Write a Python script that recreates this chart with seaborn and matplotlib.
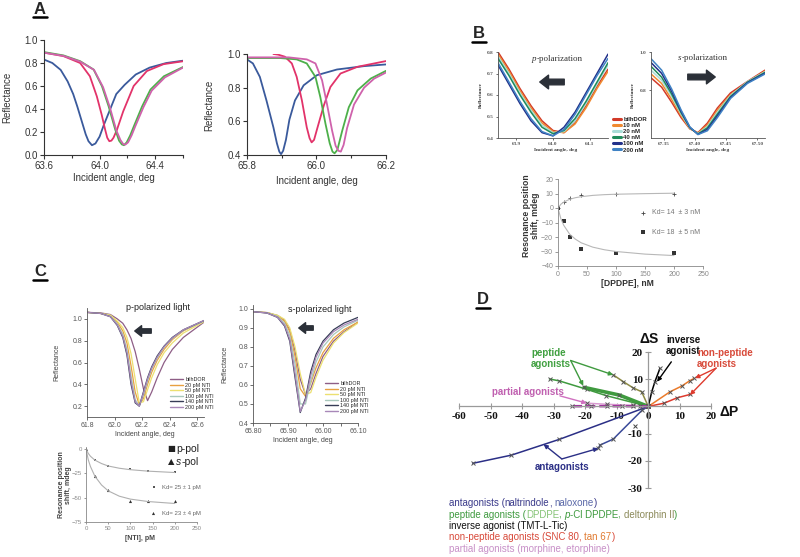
import matplotlib
matplotlib.use("Agg")
import matplotlib.pyplot as plt
from matplotlib.lines import Line2D
from matplotlib.patches import FancyArrowPatch
import seaborn as sns

# %%
# Panel A, p-polarisation (left) curves
a1_blue_x = [63.60, 63.66, 63.72, 63.77, 63.81, 63.84, 63.87, 63.90, 63.92, 63.945, 63.97, 64.00, 64.03, 64.07, 64.12, 64.18, 64.26, 64.36, 64.48, 64.60]
a1_blue_y = [0.83, 0.80, 0.74, 0.64, 0.53, 0.42, 0.30, 0.18, 0.12, 0.085, 0.10, 0.16, 0.26, 0.38, 0.53, 0.61, 0.70, 0.76, 0.80, 0.82]
a1_red_x = [63.60, 63.74, 63.86, 63.93, 63.98, 64.015, 64.04, 64.055, 64.07, 64.085, 64.10, 64.125, 64.17, 64.245, 64.34, 64.46, 64.60]
a1_red_y = [0.89, 0.86, 0.80, 0.685, 0.51, 0.35, 0.22, 0.15, 0.12, 0.125, 0.15, 0.22, 0.38, 0.60, 0.73, 0.79, 0.815]
a1_green_x = [63.60, 63.74, 63.86, 63.957, 64.017, 64.065, 64.113, 64.14, 64.16, 64.175, 64.195, 64.22, 64.246, 64.306, 64.366, 64.463, 64.60]
a1_green_y = [0.895, 0.866, 0.816, 0.743, 0.598, 0.423, 0.219, 0.125, 0.092, 0.085, 0.11, 0.17, 0.248, 0.423, 0.569, 0.685, 0.765]
a1_pink_x = [63.60, 63.74, 63.86, 63.96, 64.025, 64.075, 64.12, 64.15, 64.17, 64.185, 64.205, 64.23, 64.255, 64.315, 64.375, 64.47, 64.60]
a1_pink_y = [0.89, 0.862, 0.812, 0.74, 0.59, 0.41, 0.215, 0.13, 0.095, 0.09, 0.11, 0.17, 0.245, 0.415, 0.56, 0.675, 0.76]

# Panel A, s-polarisation (right) curves
a2_blue_x = [65.80, 65.817, 65.837, 65.856, 65.876, 65.886, 65.893, 65.898, 65.904, 65.912, 65.922, 65.938, 65.963, 66.001, 66.059, 66.137, 66.20]
a2_blue_y = [0.968, 0.944, 0.864, 0.724, 0.564, 0.47, 0.42, 0.405, 0.425, 0.49, 0.61, 0.724, 0.814, 0.874, 0.908, 0.928, 0.938]
a2_red_x = [65.876, 65.89, 65.909, 65.929, 65.943, 65.958, 65.972, 65.98, 65.986, 65.993, 66.003, 66.021, 66.04, 66.069, 66.118, 66.20]
a2_red_y = [1.0, 0.996, 0.984, 0.944, 0.864, 0.724, 0.564, 0.50, 0.475, 0.49, 0.564, 0.694, 0.804, 0.884, 0.924, 0.958]
a2_green_x = [65.80, 65.895, 65.943, 65.972, 65.997, 66.011, 66.026, 66.038, 66.046, 66.052, 66.06, 66.074, 66.093, 66.118, 66.156, 66.20]
a2_green_y = [0.976, 0.976, 0.968, 0.944, 0.864, 0.744, 0.584, 0.47, 0.42, 0.41, 0.43, 0.544, 0.684, 0.784, 0.854, 0.90]
a2_pink_x = [65.80, 65.92, 65.972, 65.997, 66.016, 66.03, 66.045, 66.055, 66.063, 66.07, 66.078, 66.088, 66.108, 66.137, 66.166, 66.20]
a2_pink_y = [0.98, 0.98, 0.968, 0.944, 0.844, 0.704, 0.544, 0.455, 0.425, 0.42, 0.46, 0.56, 0.70, 0.80, 0.854, 0.89]

# Panel B, DPDPE titration
b_labels = ["bilhDOR", "10 nM", "20 nM", "40 nM", "100 nM", "200 nM"]
b_colors = ["#d23a28", "#f08a30", "#a8dcd6", "#1e8a5a", "#22308a", "#3f82c4"]
bp_x = [63.85, 63.88, 63.91, 63.94, 63.97, 64.00, 64.03, 64.06, 64.09, 64.12, 64.15]
bp_y = [
    [0.80, 0.72, 0.63, 0.55, 0.48, 0.435, 0.425, 0.47, 0.55, 0.64, 0.72],
    [0.79, 0.71, 0.62, 0.54, 0.47, 0.43, 0.425, 0.465, 0.54, 0.63, 0.71],
    [0.78, 0.70, 0.61, 0.53, 0.46, 0.425, 0.43, 0.48, 0.56, 0.65, 0.74],
    [0.77, 0.69, 0.60, 0.52, 0.45, 0.42, 0.435, 0.49, 0.57, 0.66, 0.75],
    [0.74, 0.65, 0.56, 0.48, 0.425, 0.41, 0.45, 0.52, 0.61, 0.70, 0.79],
    [0.75, 0.66, 0.57, 0.49, 0.43, 0.41, 0.44, 0.51, 0.60, 0.69, 0.77],
]
bs_x = [67.33, 67.347, 67.363, 67.378, 67.392, 67.405, 67.42, 67.436, 67.457, 67.484, 67.512]
bs_y = [
    [0.865, 0.816, 0.737, 0.657, 0.598, 0.578, 0.628, 0.707, 0.786, 0.846, 0.905],
    [0.885, 0.835, 0.752, 0.667, 0.600, 0.575, 0.618, 0.695, 0.776, 0.840, 0.900],
    [0.905, 0.852, 0.768, 0.675, 0.602, 0.573, 0.610, 0.685, 0.772, 0.845, 0.897],
    [0.925, 0.868, 0.780, 0.683, 0.604, 0.571, 0.603, 0.675, 0.767, 0.842, 0.893],
    [0.945, 0.888, 0.794, 0.690, 0.606, 0.569, 0.595, 0.666, 0.762, 0.839, 0.889],
    [0.965, 0.905, 0.806, 0.697, 0.608, 0.568, 0.588, 0.657, 0.757, 0.836, 0.885],
]
b_conc = [0, 10, 20, 40, 100, 200]
b_shift_p = [0, 4, 7, 9, 10, 10]
b_shift_s = [0, -9, -20, -28, -31, -31]
b_fit_x = [0, 5, 10, 20, 30, 40, 60, 80, 100, 150, 200]
b_fit_p = [0, 2.6, 4.1, 6.0, 7.1, 7.8, 8.7, 9.2, 9.5, 9.9, 10.2]
b_fit_s = [0, -7.5, -12, -18, -21.5, -24, -27, -28.8, -30, -31.8, -32.8]

# Panel C, NTI titration
c_labels = ["bilhDOR", "20 pM NTI", "50 pM NTI", "100 pM NTI", "140 pM NTI", "200 pM NTI"]
c_colors = ["#8e5e86", "#e8a040", "#ece070", "#a8c8bc", "#363c56", "#a888b8"]
cp_x = [61.80, 61.90, 61.97, 62.02, 62.06, 62.09, 62.12, 62.15, 62.18, 62.21, 62.24, 62.27, 62.31, 62.36, 62.42, 62.50, 62.65]
cp_y = [
    [1.06, 1.055, 1.04, 1.0, 0.96, 0.90, 0.82, 0.70, 0.54, 0.36, 0.25, 0.33, 0.46, 0.60, 0.72, 0.83, 0.97],
    [1.06, 1.05, 1.03, 0.97, 0.89, 0.78, 0.57, 0.33, 0.21, 0.27, 0.40, 0.51, 0.62, 0.72, 0.81, 0.89, 0.98],
    [1.06, 1.05, 1.035, 0.98, 0.92, 0.83, 0.68, 0.45, 0.23, 0.24, 0.35, 0.46, 0.58, 0.69, 0.78, 0.87, 0.975],
    [1.06, 1.05, 1.025, 0.955, 0.86, 0.72, 0.48, 0.26, 0.20, 0.30, 0.43, 0.54, 0.64, 0.74, 0.82, 0.895, 0.98],
    [1.06, 1.05, 1.02, 0.94, 0.83, 0.67, 0.40, 0.23, 0.20, 0.33, 0.46, 0.56, 0.66, 0.75, 0.83, 0.90, 0.985],
    [1.06, 1.05, 1.02, 0.945, 0.84, 0.69, 0.43, 0.24, 0.20, 0.32, 0.45, 0.55, 0.65, 0.745, 0.825, 0.90, 0.985],
]
cs_x = [65.80, 65.84, 65.87, 65.89, 65.905, 65.92, 65.935, 65.95, 65.965, 65.98, 66.00, 66.03, 66.06, 66.10]
cs_y = [
    [0.985, 0.98, 0.965, 0.94, 0.89, 0.78, 0.63, 0.55, 0.58, 0.66, 0.75, 0.83, 0.88, 0.93],
    [0.985, 0.98, 0.963, 0.935, 0.88, 0.75, 0.58, 0.54, 0.61, 0.69, 0.77, 0.845, 0.89, 0.93],
    [0.985, 0.98, 0.966, 0.945, 0.90, 0.80, 0.66, 0.55, 0.56, 0.64, 0.73, 0.82, 0.875, 0.925],
    [0.985, 0.979, 0.96, 0.925, 0.86, 0.71, 0.50, 0.50, 0.62, 0.72, 0.80, 0.865, 0.905, 0.94],
    [0.985, 0.978, 0.955, 0.91, 0.83, 0.64, 0.455, 0.53, 0.67, 0.76, 0.83, 0.89, 0.925, 0.955],
    [0.985, 0.978, 0.956, 0.915, 0.84, 0.66, 0.46, 0.52, 0.65, 0.745, 0.82, 0.88, 0.915, 0.945],
]
c_conc = [0, 20, 50, 100, 140, 200]
c_shift_p = [0, -11.5, -17.6, -21, -22.7, -23.7]
c_shift_s = [0, -27.8, -42.4, -53.9, -53.3, -53.3]
c_fit_x = [0, 5, 10, 20, 35, 50, 75, 100, 140, 200]
c_fit_p = [0, -4.5, -7.5, -11.5, -15, -17.5, -19.8, -21.3, -22.8, -24.2]
c_fit_s = [0, -11, -18, -28, -37, -43, -48.5, -51.5, -54, -56]

# Panel D, resonance shifts (dP, dS) for each ligand
d_naltrindole_p = [0, -28.2, -43.4, -55.6]
d_naltrindole_s = [0, -12.1, -17.9, -20.9]
d_naloxone_p = [0, -1.9, -11.1, -15.3, -15.8]
d_naloxone_s = [0, -1.3, -12.0, -14.2, -15.4]
d_dpdpe_p = [0, -13.4, -19.5, -28.2, -31.3]
d_dpdpe_s = [0, 4.0, 6.3, 9.4, 10.1]
d_pcl_p = [0, -9.2, -20.3]
d_pcl_s = [0, 4.2, 7.0]
d_delt_p = [0, -2.1, -4.9, -7.9, -11.1]
d_delt_s = [0, 5.4, 6.9, 9.1, 11.6]
d_tmt_p = [0, 1.1, 2.1, 3.7]
d_tmt_s = [0, 5.4, 9.1, 14.0]
d_snc_p = [0, 5.0, 9.2, 13.2]
d_snc_s = [0, 1.2, 3.2, 4.4]
d_tan_p = [0, 6.9, 10.6, 13.2, 14.5]
d_tan_s = [0, 5.4, 7.5, 9.5, 10.3]
d_morph_p = [0, -4.8, -13.2, -19.5]
d_morph_s = [0, 0.4, 0.8, 1.2]
d_etor_p = [0, -2.6, -4.8, -8.4, -13.2, -18.3, -24.2]
d_etor_s = [0, 0.1, 0.1, 0.1, 0.1, 0.1, 0.1]
d_extra_p = [-4.2]
d_extra_s = [-7.1]

# %%
sns.set_theme(style="ticks")
plt.rcParams["font.family"] = ["Liberation Sans", "DejaVu Sans"]
plt.rcParams["axes.linewidth"] = 0.8

W, H = 800, 557
fig = plt.figure(figsize=(8, 5.57), dpi=100)
bg = fig.add_axes([0, 0, 1, 1])
bg.set_xlim(0, W)
bg.set_ylim(H, 0)
bg.axis("off")


def box(l, t, r, b):
    return fig.add_axes([l / W, 1 - b / H, (r - l) / W, (b - t) / H])


def ftext(x, y, s, **kw):
    kw.setdefault("ha", "center")
    kw.setdefault("va", "center")
    return bg.text(x, y, s, **kw)


def rich(x, y, parts, **kw):
    # consecutive text pieces with their own colour / style
    t = bg.text(x, y, parts[0][0], color=parts[0][1], style=parts[0][2], ha="left", va="center", **kw)
    for s, c, st in parts[1:]:
        t = bg.annotate(s, xy=(1, 0), xycoords=t, color=c, style=st, ha="left", va="bottom",
                        annotation_clip=False, **kw)


def letter(x, y, s):
    ftext(x, y, s, fontsize=12, fontweight="bold")
    bg.plot([x - 7, x + 7], [y + 8, y + 8], color="black", lw=1.8)


def fat_arrow(x0, y0, x1, y1, scale=9):
    bg.add_patch(FancyArrowPatch((x0, y0), (x1, y1),
                                 arrowstyle="simple,head_length=0.7,head_width=1.1,tail_width=0.45",
                                 mutation_scale=scale, color="#2b3038"))


def line(ax, x, y, c, lw=1.3, **kw):
    sns.lineplot(x=x, y=y, ax=ax, color=c, lw=lw, sort=False, estimator=None, legend=False, **kw)


def frame(ax, fs, color="#333333", lw=0.8):
    sns.despine(ax=ax)
    for s in ("left", "bottom"):
        ax.spines[s].set_color(color)
        ax.spines[s].set_linewidth(lw)
    ax.tick_params(labelsize=fs, colors=color, length=3, width=lw, pad=1.5)
    ax.tick_params(which="minor", length=2, width=lw, colors=color)
    ax.set_facecolor("none")
    ax.set_xlabel("")
    ax.set_ylabel("")


# %%
# ---- A ----
letter(40, 9, "A")
ax = box(44, 40, 183, 155)
line(ax, a1_blue_x, a1_blue_y, "#3a5a9c")
line(ax, a1_red_x, a1_red_y, "#e2336a")
line(ax, a1_green_x, a1_green_y, "#4db04a")
line(ax, a1_pink_x, a1_pink_y, "#cf62ac")
ax.set_xlim(63.6, 64.6)
ax.set_ylim(0, 1.0)
ax.set_xticks([63.6, 64.0, 64.4], ["63.6", "64.0", "64.4"])
ax.set_xticks([63.8, 64.2, 64.6], minor=True)
ax.set_yticks([0, 0.2, 0.4, 0.6, 0.8, 1.0], ["0.0", "0.2", "0.4", "0.6", "0.8", "1.0"])
frame(ax, 7)
ftext(7, 97, "Reflectance", rotation=90, fontsize=7, color="#333")
ftext(114, 178, "Incident angle, deg", fontsize=7, color="#333")

ax = box(247, 54, 386, 155)
line(ax, a2_blue_x, a2_blue_y, "#3a5a9c")
line(ax, a2_red_x, a2_red_y, "#e2336a")
line(ax, a2_green_x, a2_green_y, "#4db04a")
line(ax, a2_pink_x, a2_pink_y, "#cf62ac")
ax.set_xlim(65.8, 66.2)
ax.set_ylim(0.4, 1.0)
ax.set_xticks([65.8, 66.0, 66.2], ["65.8", "66.0", "66.2"])
ax.set_xticks([65.9, 66.1], minor=True)
ax.set_yticks([0.4, 0.6, 0.8, 1.0], ["0.4", "0.6", "0.8", "1.0"])
frame(ax, 7)
ftext(209, 105, "Reflectance", rotation=90, fontsize=7, color="#333")
ftext(317, 181, "Incident angle, deg", fontsize=7, color="#333")

# %%
# ---- B ----
letter(479, 34, "B")
tiny = dict(fontsize=3.8, fontfamily="Liberation Serif", fontweight="bold")

ax = box(498, 52, 608, 138)
for ys, c in zip(bp_y, b_colors):
    line(ax, bp_x, ys, c, lw=1.1)
ax.set_xlim(63.85, 64.15)
ax.set_ylim(0.4, 0.8)
ax.set_xticks([63.9, 64.0, 64.1], ["63.9", "64.0", "64.1"], **tiny)
ax.set_yticks([0.4, 0.5, 0.6, 0.7, 0.8], ["0.4", "0.5", "0.6", "0.7", "0.8"], **tiny)
frame(ax, 3.8, color="#555", lw=0.6)
ax.tick_params(length=1.5)
ftext(481, 95, "Reflectance", rotation=90, color="#333", **tiny)
ftext(556, 150, "Incident angle, deg", color="#333", **tiny)
rich(532, 59, [("p", "#333", "italic"), ("-polarization", "#333", "normal")],
     fontsize=6.5, fontfamily="Liberation Serif")
fat_arrow(567, 82, 537, 82)
handles = [Line2D([], [], color=c, lw=2.2) for c in b_colors]
ax.legend(handles, b_labels, loc="upper left", bbox_to_anchor=(613 / W, 1 - 117 / H),
          bbox_transform=fig.transFigure, frameon=False, handlelength=1.3, handletextpad=0.4,
          labelspacing=0.15, borderpad=0, borderaxespad=0,
          prop={"weight": "bold", "family": "Liberation Sans", "size": 4.3})

ax = box(651, 52, 765, 138)
for ys, c in zip(bs_y, b_colors):
    line(ax, bs_x, ys, c, lw=1.1)
ax.set_xlim(67.33, 67.512)
ax.set_ylim(0.55, 1.0)
ax.set_xticks([67.35, 67.40, 67.45, 67.50], ["67.35", "67.40", "67.45", "67.50"], **tiny)
ax.set_yticks([0.8, 1.0], ["0.8", "1.0"], **tiny)
frame(ax, 3.8, color="#555", lw=0.6)
ax.tick_params(length=1.5)
ftext(633, 95, "Reflectance", rotation=90, color="#333", **tiny)
ftext(708, 150, "Incident angle, deg", color="#333", **tiny)
rich(678, 58, [("s", "#333", "italic"), ("-polarization", "#333", "normal")],
     fontsize=6.5, fontfamily="Liberation Serif")
fat_arrow(685, 77, 718, 77)

ax = box(558, 179, 703, 266)
line(ax, b_fit_x, b_fit_p, "#b8b8b8", lw=0.8)
line(ax, b_fit_x, b_fit_s, "#b8b8b8", lw=0.8)
sns.scatterplot(x=b_conc, y=b_shift_p, ax=ax, marker="+", s=6, color="#444", linewidth=0.6, legend=False)
sns.scatterplot(x=b_conc, y=b_shift_s, ax=ax, marker="s", s=7, color="#333", linewidth=0, legend=False)
ax.set_xlim(0, 250)
ax.set_ylim(-40, 20)
ax.set_xticks([0, 50, 100, 150, 200, 250])
ax.set_yticks([-40, -30, -20, -10, 0, 10, 20])
frame(ax, 5, color="#888", lw=0.6)
ax.tick_params(length=2)
sns.scatterplot(x=[643], y=[213], ax=bg, marker="+", s=6, color="#444", linewidth=0.6, legend=False)
sns.scatterplot(x=[643], y=[232], ax=bg, marker="s", s=7, color="#333", linewidth=0, legend=False)
ftext(652, 213, "Kd= 14  \u00b1 3 nM", ha="left", fontsize=5, color="#777")
ftext(652, 232, "Kd= 18  \u00b1 5 nM", ha="left", fontsize=5, color="#777")
ftext(531, 216, "Resonance position\nshift, mdeg", rotation=90, fontsize=6.2, fontweight="bold",
      color="#333", linespacing=1.1)
ftext(627, 283, "[DPDPE], nM", fontsize=6.2, fontweight="bold", color="#333")

# %%
# ---- C ----
letter(40, 272, "C")
ax = box(87, 308, 204, 417)
for ys, c in zip(cp_y, c_colors):
    line(ax, cp_x, ys, c, lw=0.9)
ax.set_xlim(61.8, 62.65)
ax.set_ylim(0.1, 1.1)
ax.set_xticks([61.8, 62.0, 62.2, 62.4, 62.6], ["61.8", "62.0", "62.2", "62.4", "62.6"])
ax.set_yticks([0.2, 0.4, 0.6, 0.8, 1.0], ["0.2", "0.4", "0.6", "0.8", "1.0"])
frame(ax, 5, color="#555", lw=0.6)
ax.tick_params(length=2)
ftext(57, 362, "Reflectance", rotation=90, fontsize=5, color="#444")
ftext(145, 435, "Incident angle, deg", fontsize=5, color="#444")
ftext(158, 308, "p-polarized light", fontsize=6.5, color="#222")
fat_arrow(154, 331, 132, 331, scale=7)
handles = [Line2D([], [], color=c, lw=1.0) for c in c_colors]
ax.legend(handles, c_labels, loc="upper left", bbox_to_anchor=(170 / W, 1 - 377 / H),
          bbox_transform=fig.transFigure, frameon=False, handlelength=2.4, handletextpad=0.4,
          labelspacing=0.1, borderpad=0, borderaxespad=0, prop={"size": 3.9})

ax = box(253, 305, 358, 423)
for ys, c in zip(cs_y, c_colors):
    line(ax, cs_x, ys, c, lw=0.9)
ax.set_xlim(65.80, 66.10)
ax.set_ylim(0.4, 1.02)
ax.set_xticks([65.80, 65.90, 66.00, 66.10], ["65.80", "65.90", "66.00", "66.10"])
ax.set_xticks([65.85, 65.95, 66.05], minor=True)
ax.set_yticks([0.4, 0.5, 0.6, 0.7, 0.8, 0.9, 1.0])
frame(ax, 5, color="#555", lw=0.6)
ax.tick_params(length=2)
ftext(225, 364, "Reflectance", rotation=90, fontsize=5, color="#444")
ftext(303, 441, "Incident angle, deg", fontsize=5, color="#444")
ftext(320, 309, "s-polarized light", fontsize=6.5, color="#222")
fat_arrow(316, 328, 296, 328, scale=7)
ax.legend(handles, c_labels, loc="upper left", bbox_to_anchor=(325 / W, 1 - 381 / H),
          bbox_transform=fig.transFigure, frameon=False, handlelength=2.4, handletextpad=0.4,
          labelspacing=0.1, borderpad=0, borderaxespad=0, prop={"size": 3.9})

ax = box(86, 447, 197, 522)
line(ax, c_fit_x, c_fit_p, "#b0b0b0", lw=0.8)
line(ax, c_fit_x, c_fit_s, "#b0b0b0", lw=0.8)
sns.scatterplot(x=c_conc, y=c_shift_p, ax=ax, marker="s", s=4, color="#555", linewidth=0, legend=False)
sns.scatterplot(x=c_conc, y=c_shift_s, ax=ax, marker="^", s=5, color="#333", linewidth=0, legend=False)
ax.set_xlim(0, 250)
ax.set_ylim(-75, 2)
ax.set_xticks([0, 50, 100, 150, 200, 250])
ax.set_yticks([-75, -50, -25, 0])
frame(ax, 4.3, color="#888", lw=0.6)
ax.tick_params(length=1.5)
sns.scatterplot(x=[154], y=[487], ax=bg, marker="s", s=4, color="#555", linewidth=0, legend=False)
sns.scatterplot(x=[153], y=[513], ax=bg, marker="^", s=5, color="#333", linewidth=0, legend=False)
ftext(162, 487, "Kd= 25 \u00b1 1 pM", ha="left", fontsize=4.3, color="#666")
ftext(162, 513, "Kd= 23 \u00b1 4 pM", ha="left", fontsize=4.3, color="#666")
ftext(171, 449, "\u25a0", fontsize=6, color="#222", fontfamily="DejaVu Sans")
ftext(171, 462, "\u25b2", fontsize=6, color="#222", fontfamily="DejaVu Sans")
rich(176, 449, [("p-pol", "#222", "normal")], fontsize=7.5)
rich(176, 462, [("s", "#222", "italic"), ("-pol", "#222", "normal")], fontsize=7.5)
ftext(65, 485, "Resonance position\nshift, mdeg", rotation=90, fontsize=5, fontweight="bold",
      color="#444", linespacing=1.1)
ftext(140, 538, "[NTI], pM", fontsize=5, fontweight="bold", color="#444")

# %%
# ---- D ----
letter(483, 300, "D")
ax = box(449.5, 343.9, 724, 493.5)
navy, green, olive, red, orange = "#2b2f86", "#3f9a3f", "#8c8a44", "#de3b2e", "#ea7a2a"
mk = dict(marker="x", markersize=3.2, markeredgewidth=0.7, markeredgecolor="#555")
line(ax, d_naltrindole_p, d_naltrindole_s, navy, lw=1.1, **mk)
line(ax, d_naloxone_p, d_naloxone_s, "#3a4a9a", lw=1.1, **mk)
line(ax, d_dpdpe_p, d_dpdpe_s, green, lw=1.1, **mk)
line(ax, d_pcl_p, d_pcl_s, green, lw=2.6, **mk)
line(ax, d_delt_p, d_delt_s, olive, lw=1.1, **mk)
line(ax, d_tmt_p, d_tmt_s, "black", lw=1.1, **mk)
line(ax, d_tan_p, d_tan_s, orange, lw=1.1, **mk)
line(ax, d_snc_p, d_snc_s, red, lw=1.1, **mk)
line(ax, d_morph_p, d_morph_s, "#d99ad0", lw=1.1, **mk)
line(ax, d_etor_p, d_etor_s, "#a02a9e", lw=1.8, linestyle="--", **mk)
sns.scatterplot(x=d_extra_p, y=d_extra_s, ax=ax, marker="x", s=8, color="#444", linewidth=0.7, legend=False)

ax.set_xlim(-63, 24)
ax.set_ylim(-32, 23)
for s in ("top", "right"):
    ax.spines[s].set_visible(False)
for s in ("left", "bottom"):
    ax.spines[s].set_position(("data", 0))
    ax.spines[s].set_color("#9a9a9a")
    ax.spines[s].set_linewidth(0.9)
ax.spines["left"].set_bounds(-30, 20)
ax.spines["bottom"].set_bounds(-60, 20)
ax.set_facecolor("none")
dfont = dict(fontfamily="Liberation Serif", fontweight="bold", fontsize=8)
ax.set_xticks([-60, -50, -40, -30, -20, -10, 0, 10, 20],
              ["-60", "-50", "-40", "-30", "-20", "-10", "0", "10", "20"], **dfont)
ax.set_yticks([-30, -20, -10, 10, 20], ["-30", "-20", "-10", "10", "20"], **dfont)
ax.tick_params(direction="inout", length=4, width=0.8, colors="#9a9a9a", labelcolor="#111", pad=2)
ax.set_xlabel("")
ax.set_ylabel("")

arr = dict(arrowstyle="-|>", lw=1.0, mutation_scale=6, shrinkA=0, shrinkB=0)
for tip in [(2.8, 9.1)]:
    ax.annotate("", xy=tip, xytext=(7.3, 16.4), arrowprops=dict(color="black", **arr))
for tip in [(14.8, 10.4), (13.2, 4.2)]:
    ax.annotate("", xy=tip, xytext=(21.5, 14.1), arrowprops=dict(color=red, **arr))
for tip in [(-11.1, 11.6), (-20.6, 7.6)]:
    ax.annotate("", xy=tip, xytext=(-24.6, 16.9), arrowprops=dict(color=green, **arr))
ax.annotate("", xy=(-19.5, 1.2), xytext=(-28, 3.9), arrowprops=dict(color="#d070c0", **arr))
for tip in [(-33.2, -13.9), (-15.8, -15.4)]:
    ax.annotate("", xy=tip, xytext=(-27.4, -19.3), arrowprops=dict(color=navy, **arr))

lab = dict(fontsize=7, fontweight="bold", ha="left")
ftext(640, 339, "\u0394S", fontsize=10, fontweight="bold", ha="left", color="#111")
ftext(719, 412, "\u0394P", fontsize=10, fontweight="bold", ha="left", color="#111")
ftext(666, 340, "inverse", color="#111", **lab)
ftext(666, 351, "agonist", color="#111", **lab)
ftext(697, 353, "non-peptide", color="#d84a3a", **lab)
ftext(697, 364, "agonists", color="#d84a3a", **lab)
ftext(531, 353, "peptide", color="#40a040", **lab)
ftext(531, 364, "agonists", color="#40a040", **lab)
ftext(492, 392, "partial agonists", color="#c060b0", **lab)
ftext(535, 467, "antagonists", color=navy, **lab)

fs = 7
rich(449, 503, [("antagonists (", "#3a3a8a", "normal"), ("naltrindole", "#3a3a8a", "normal"),
                (", ", "#3a3a8a", "normal"), ("naloxone", "#5a68a8", "normal"), (")", "#3a3a8a", "normal")], fontsize=fs)
rich(449, 514.5, [("peptide agonists (", "#3f9a3f", "normal"), ("DPDPE", "#86c477", "normal"),
                  (", ", "#3f9a3f", "normal"), ("p", "#3f9a3f", "italic"), ("-Cl DPDPE", "#3f9a3f", "normal"),
                  (", ", "#3f9a3f", "normal"), ("deltorphin II", "#8c8a5a", "normal"), (")", "#3f9a3f", "normal")], fontsize=fs)
rich(449, 526, [("inverse agonist (TMT-L-Tic)", "#111", "normal")], fontsize=fs)
rich(449, 537.5, [("non-peptide agonists (", "#d84a3a", "normal"), ("SNC 80", "#d84a3a", "normal"),
                  (", ", "#d84a3a", "normal"), ("tan 67", "#e07a30", "normal"), (")", "#d84a3a", "normal")], fontsize=fs)
rich(449, 548.5, [("partial agonists (morphine, etorphine)", "#c890c8", "normal")], fontsize=fs)

fig.savefig("out.png", dpi=100)
